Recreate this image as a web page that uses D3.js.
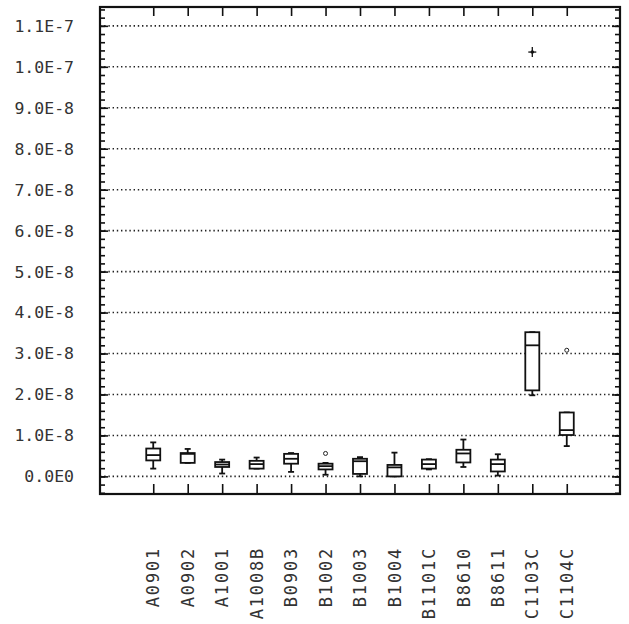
<!DOCTYPE html>
<html>
<head>
<meta charset="utf-8">
<script src="https://cdn.jsdelivr.net/npm/d3@7"></script>
<style>
  body { margin: 0; background: #fff; }
  svg { display: block; }
  text { font-family: "DejaVu Sans Mono", monospace; fill: #333; }
</style>
</head>
<body>
<svg id="chart" width="629" height="624"></svg>
<script>
// ---- data (values in the chart's units) ----
const categories = ["A0901","A0902","A1001","A1008B","B0903","B1002","B1003","B1004","B1101C","B8610","B8611","C1103C","C1104C"];
const whiskerLow  = [0.19e-8, 0.33e-8, 0.07e-8, 0.19e-8, 0.11e-8, 0.04e-8, 0.00e-8, 0.00e-8, 0.17e-8, 0.23e-8, 0.02e-8, 1.98e-8, 0.74e-8];
const q1          = [0.39e-8, 0.33e-8, 0.23e-8, 0.19e-8, 0.31e-8, 0.17e-8, 0.06e-8, 0.00e-8, 0.19e-8, 0.34e-8, 0.12e-8, 2.10e-8, 1.01e-8];
const medians     = [0.52e-8, 0.55e-8, 0.29e-8, 0.30e-8, 0.43e-8, 0.25e-8, 0.37e-8, 0.22e-8, 0.30e-8, 0.56e-8, 0.30e-8, 3.20e-8, 1.13e-8];
const q3          = [0.68e-8, 0.57e-8, 0.35e-8, 0.38e-8, 0.55e-8, 0.31e-8, 0.43e-8, 0.28e-8, 0.41e-8, 0.65e-8, 0.41e-8, 3.52e-8, 1.56e-8];
const whiskerHigh = [0.83e-8, 0.67e-8, 0.41e-8, 0.46e-8, 0.57e-8, 0.33e-8, 0.47e-8, 0.58e-8, 0.42e-8, 0.90e-8, 0.54e-8, 3.52e-8, 1.56e-8];
const outlierCats   = ["B1002", "C1103C", "C1104C"];
const outlierValues = [0.56e-8, 10.36e-8, 3.08e-8];
const outlierKinds  = ["circle", "plus", "circle"];
const yTickValues = [0, 1e-8, 2e-8, 3e-8, 4e-8, 5e-8, 6e-8, 7e-8, 8e-8, 9e-8, 10e-8, 11e-8];
const yTickLabels = ["0.0E0","1.0E-8","2.0E-8","3.0E-8","4.0E-8","5.0E-8","6.0E-8","7.0E-8","8.0E-8","9.0E-8","1.0E-7","1.1E-7"];

// ---- layout ----
const L = 100, R = 620, T = 7, B = 494;
const svg = d3.select("#chart");

const x = d3.scalePoint().domain(categories).range([L, R]).padding(1.545);
const y = d3.scaleLinear().domain([-0.43e-8, 11.46e-8]).range([B, T]);

const minorTicks = d3.range(-4, 115, 2).map(d => d * 1e-9);

// gridlines
svg.append("g").selectAll("line").data(yTickValues).join("line")
  .attr("x1", L).attr("x2", R)
  .attr("y1", d => y(d)).attr("y2", d => y(d))
  .attr("stroke", "#222").attr("stroke-width", 1.6)
  .attr("stroke-dasharray", "1.4,2.8");

function styleAxis(g) {
  g.select(".domain").remove();
  g.selectAll(".tick line").attr("stroke", "#111").attr("stroke-width", 1.6);
  g.selectAll(".tick text").remove();
}

// left axis ticks (inward)
svg.append("g").attr("transform", `translate(${L},0)`)
  .call(d3.axisRight(y).tickValues(minorTicks).tickSize(5).tickFormat(""))
  .call(styleAxis);
svg.append("g").attr("transform", `translate(${L},0)`)
  .call(d3.axisRight(y).tickValues(yTickValues).tickSize(8).tickFormat(""))
  .call(styleAxis);
// right axis ticks (inward)
svg.append("g").attr("transform", `translate(${R},0)`)
  .call(d3.axisLeft(y).tickValues(minorTicks).tickSize(5).tickFormat(""))
  .call(styleAxis);
svg.append("g").attr("transform", `translate(${R},0)`)
  .call(d3.axisLeft(y).tickValues(yTickValues).tickSize(8).tickFormat(""))
  .call(styleAxis);
// top & bottom ticks (inward)
svg.append("g").attr("transform", `translate(0,${T})`)
  .call(d3.axisBottom(x).tickSize(9).tickFormat(""))
  .call(styleAxis);
svg.append("g").attr("transform", `translate(0,${B})`)
  .call(d3.axisTop(x).tickSize(10).tickFormat(""))
  .call(styleAxis);

// frame
svg.append("rect").attr("x", L).attr("y", T).attr("width", R - L).attr("height", B - T)
  .attr("fill", "none").attr("stroke", "#111").attr("stroke-width", 2.2);

// y labels
svg.append("g").selectAll("text").data(yTickValues).join("text")
  .attr("x", 74).attr("y", d => y(d)).attr("dy", "0.36em")
  .attr("text-anchor", "end").attr("font-size", 16.5)
  .text((d, i) => yTickLabels[i]);

// x labels (rotated)
svg.append("g").selectAll("text").data(categories).join("text")
  .attr("transform", d => `translate(${x(d)},547) rotate(-90)`)
  .attr("dy", "0.36em").attr("text-anchor", "end")
  .attr("font-size", 17).attr("letter-spacing", 1.8)
  .text(d => d);

// boxes
const boxW = 14, capW = 6;
const boxes = svg.append("g").attr("stroke", "#111").attr("fill", "none").attr("stroke-width", 1.8);
categories.forEach((c, i) => {
  const cx = x(c);
  const g = boxes.append("g");
  // whiskers
  g.append("line").attr("x1", cx).attr("x2", cx).attr("y1", y(q3[i])).attr("y2", y(whiskerHigh[i]));
  g.append("line").attr("x1", cx).attr("x2", cx).attr("y1", y(q1[i])).attr("y2", y(whiskerLow[i]));
  g.append("line").attr("x1", cx - capW / 2).attr("x2", cx + capW / 2).attr("y1", y(whiskerHigh[i])).attr("y2", y(whiskerHigh[i]));
  g.append("line").attr("x1", cx - capW / 2).attr("x2", cx + capW / 2).attr("y1", y(whiskerLow[i])).attr("y2", y(whiskerLow[i]));
  // box
  g.append("rect").attr("x", cx - boxW / 2).attr("width", boxW)
    .attr("y", y(q3[i])).attr("height", Math.max(1, y(q1[i]) - y(q3[i])))
    .attr("fill", "#fff");
  // median
  g.append("line").attr("x1", cx - boxW / 2).attr("x2", cx + boxW / 2)
    .attr("y1", y(medians[i])).attr("y2", y(medians[i]));
});

// outliers
outlierCats.forEach((c, i) => {
  const cx = x(c), cy = y(outlierValues[i]);
  if (outlierKinds[i] === "circle") {
    svg.append("circle").attr("cx", cx).attr("cy", cy).attr("r", 2)
      .attr("fill", "none").attr("stroke", "#222").attr("stroke-width", 1);
  } else {
    const g = svg.append("g").attr("stroke", "#111").attr("stroke-width", 1.3);
    g.append("line").attr("x1", cx - 4).attr("x2", cx + 4).attr("y1", cy).attr("y2", cy);
    g.append("line").attr("x1", cx).attr("x2", cx).attr("y1", cy - 5).attr("y2", cy + 5);
    g.append("circle").attr("cx", cx).attr("cy", cy).attr("r", 1.8).attr("fill", "#111").attr("stroke", "none");
  }
});
</script>
</body>
</html>
